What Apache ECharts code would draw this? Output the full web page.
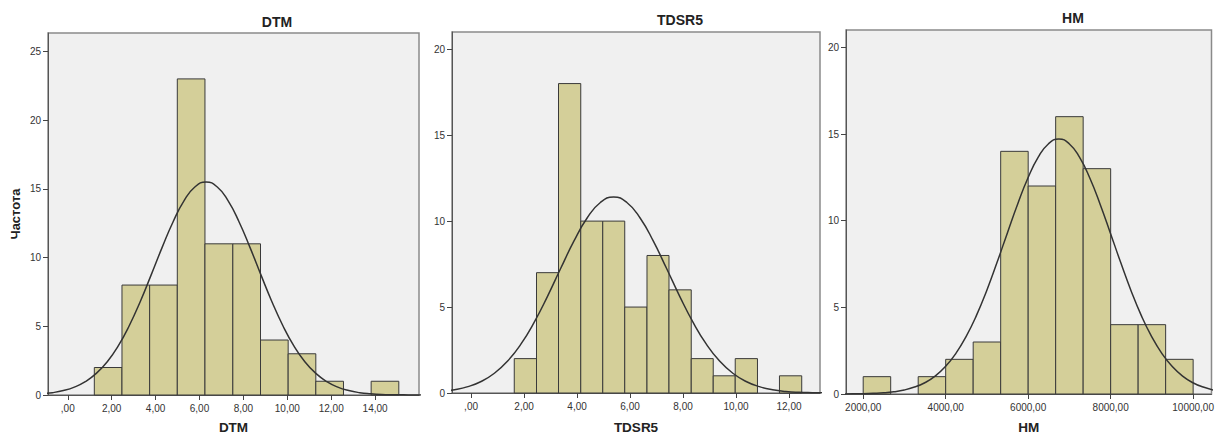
<!DOCTYPE html>
<html>
<head>
<meta charset="utf-8">
<script src="https://cdn.jsdelivr.net/npm/echarts@6/dist/echarts.min.js"></script>
<style>
  html, body { margin: 0; padding: 0; background: #fff; }
  #chart { width: 1217px; height: 439px; }
</style>
</head>
<body>
<div id="chart"></div>
<script>
// bin edges and counts
var dtmEdges = [1.21, 2.47, 3.73, 4.99, 6.25, 7.52, 8.78, 10.04, 11.30, 12.56, 13.82, 15.08]
var dtmCounts = [2, 8, 8, 23, 11, 11, 4, 3, 1, 0, 1]
var tdsrEdges = [1.63, 2.47, 3.30, 4.14, 4.97, 5.80, 6.64, 7.47, 8.31, 9.14, 9.97, 10.81, 11.64, 12.48]
var tdsrCounts = [2, 7, 18, 10, 10, 5, 8, 6, 2, 1, 2, 0, 1]
var hmEdges = [2000, 2666.67, 3333.33, 4000, 4666.67, 5333.33, 6000, 6666.67, 7333.33, 8000, 8666.67, 9333.33, 10000]
var hmCounts = [1, 0, 1, 2, 3, 14, 12, 16, 13, 4, 4, 2]

var dtmCurveX = [-1.2, -0.7, -0.2, 0.3, 0.8, 1.3, 1.8, 2.3, 2.8, 3.3, 3.8, 4.3, 4.8, 5.3, 5.8, 6.3,
    6.8, 7.3, 7.8, 8.3, 8.8, 9.3, 9.8, 10.3, 10.8, 11.3, 11.8, 12.3, 12.8, 13.3, 13.8, 14.3, 14.8, 15.3, 15.8, 16.3]
var dtmCurveY = [0.09, 0.17, 0.32, 0.57, 0.97, 1.57, 2.42, 3.57, 5.04, 6.79, 8.74, 10.74, 12.61, 14.14, 15.15, 15.5,
    15.15, 14.14, 12.61, 10.74, 8.74, 6.79, 5.04, 3.57, 2.42, 1.57, 0.97, 0.57, 0.32, 0.17, 0.09, 0.04, 0.02, 0.01, 0, 0]
var tdsrCurveX = [-1.12, -0.62, -0.12, 0.38, 0.88, 1.38, 1.88, 2.38, 2.88, 3.38, 3.88, 4.38, 4.88, 5.38,
    5.88, 6.38, 6.88, 7.38, 7.88, 8.38, 8.88, 9.38, 9.88, 10.38, 10.88, 11.38, 11.88, 12.38, 12.88, 13.38]
var tdsrCurveY = [0.09, 0.19, 0.37, 0.67, 1.15, 1.86, 2.84, 4.11, 5.61, 7.24, 8.83, 10.18, 11.08, 11.4,
    11.08, 10.18, 8.83, 7.24, 5.61, 4.11, 2.84, 1.86, 1.15, 0.67, 0.37, 0.19, 0.09, 0.04, 0.02, 0.01]
var hmCurveX = [1494, 1744, 1994, 2244, 2494, 2744, 2994, 3244, 3494, 3744, 3994, 4244, 4494, 4744, 4994, 5244, 5494, 5744, 5994, 6244, 6494, 6744,
    6994, 7244, 7494, 7744, 7994, 8244, 8494, 8744, 8994, 9244, 9494, 9744, 9994, 10244, 10494]
var hmCurveY = [0, 0.01, 0.02, 0.04, 0.07, 0.13, 0.23, 0.40, 0.65, 1.03, 1.58, 2.33, 3.31, 4.52, 5.96, 7.58, 9.28, 10.95, 12.46, 13.66, 14.44, 14.71,
    14.44, 13.66, 12.46, 10.95, 9.28, 7.58, 5.96, 4.52, 3.31, 2.33, 1.58, 1.03, 0.65, 0.40, 0.23]

// tick labels
var dtmTicks = [0, 2, 4, 6, 8, 10, 12, 14]
var tdsrTicks = [0, 2, 4, 6, 8, 10, 12]
var hmTicks = [2000, 4000, 6000, 8000, 10000]
var dtmYTicks = [0, 5, 10, 15, 20, 25]
var otherYTicks = [0, 5, 10, 15, 20]

var titles = ['DTM', 'TDSR5', 'HM']

var chart = echarts.init(document.getElementById('chart'), null, { renderer: 'svg' })

function fmt(v) {
    if (v === 0) return ',00'
    return v.toFixed(2).replace('.', ',')
}

function binData(edges, counts) {
    return counts.map(function (c, i) { return [edges[i], edges[i + 1], c] })
        .filter(function (d) { return d[2] > 0 })
}

function renderBar(params, api) {
    var p0 = api.coord([api.value(0), 0])
    var p1 = api.coord([api.value(1), api.value(2)])
    return {
        type: 'rect',
        shape: { x: p0[0], y: p1[1], width: p1[0] - p0[0], height: p0[1] - p1[1] },
        style: { fill: '#d4cf99', stroke: '#3a3a3a', lineWidth: 1 }
    }
}

function xAxis(idx, name, min, max, ticks, gap) {
    return {
        type: 'value', gridIndex: idx, min: min, max: max,
        name: name, nameLocation: 'middle', nameGap: gap,
        nameTextStyle: { fontFamily: 'Liberation Sans', fontWeight: 'bold', fontSize: 13.5, color: '#222' },
        axisLine: { show: true, onZero: false, lineStyle: { color: '#555', width: 1 } },
        axisTick: { show: true, length: 5, customValues: ticks, lineStyle: { color: '#444' } },
        axisLabel: { customValues: ticks, formatter: fmt, margin: 8, fontFamily: 'Liberation Sans', fontSize: 10, color: '#333' },
        splitLine: { show: false }
    }
}

function yAxis(idx, max, ticks, name) {
    return {
        type: 'value', gridIndex: idx, min: 0, max: max,
        name: name || '', nameLocation: 'middle', nameGap: 26, nameRotate: 90,
        nameTextStyle: { fontFamily: 'Liberation Sans', fontWeight: 'bold', fontSize: 13, color: '#222' },
        axisLine: { show: true, onZero: false, lineStyle: { color: '#555', width: 1 } },
        axisTick: { show: true, length: 5, customValues: ticks, lineStyle: { color: '#444' } },
        axisLabel: { customValues: ticks, margin: 7, fontFamily: 'Liberation Sans', fontSize: 10, color: '#333' },
        splitLine: { show: false }
    }
}

function grid(left, top, width, height) {
    return {
        left: left, top: top, width: width, height: height,
        show: true, backgroundColor: '#f0f0f0', borderColor: '#8a8a8a', borderWidth: 1.5
    }
}

function curve(idx, xs, ys) {
    return {
        type: 'line', xAxisIndex: idx, yAxisIndex: idx,
        data: xs.map(function (x, i) { return [x, ys[i]] }),
        smooth: true, showSymbol: false, silent: true, clip: true,
        lineStyle: { color: '#333', width: 1.5 }, z: 5
    }
}

function bars(idx, edges, counts) {
    return {
        type: 'custom', xAxisIndex: idx, yAxisIndex: idx,
        data: binData(edges, counts),
        encode: { x: [0, 1], y: 2 },
        renderItem: renderBar, silent: true, z: 2
    }
}

function titleText(text, x, y) {
    return {
        type: 'text', x: x, y: y,
        style: {
            text: text, textAlign: 'center', textVerticalAlign: 'middle',
            font: 'bold 14px "Liberation Sans"', fill: '#222'
        }
    }
}

var option = {
    animation: false,
    grid: [
        grid(48, 33, 371, 369),
        grid(452, 32, 368, 366),
        grid(846, 30, 368, 364)
    ],
    xAxis: [
        xAxis(0, 'DTM', -0.9, 16, dtmTicks, 25),
        xAxis(1, 'TDSR5', -0.72, 13.17, tdsrTicks, 27),
        xAxis(2, 'HM', 1583, 10445, hmTicks, 26)
    ],
    yAxis: [
        yAxis(0, 26.34, dtmYTicks, 'Частота'),
        yAxis(1, 21, otherYTicks),
        yAxis(2, 21, otherYTicks)
    ],
    graphic: [
        titleText(titles[0], 277, 22),
        titleText(titles[1], 680, 20),
        titleText(titles[2], 1073, 18)
    ],
    series: [
        bars(0, dtmEdges, dtmCounts),
        bars(1, tdsrEdges, tdsrCounts),
        bars(2, hmEdges, hmCounts),
        curve(0, dtmCurveX, dtmCurveY),
        curve(1, tdsrCurveX, tdsrCurveY),
        curve(2, hmCurveX, hmCurveY)
    ]
}

chart.setOption(option)
</script>
</body>
</html>
